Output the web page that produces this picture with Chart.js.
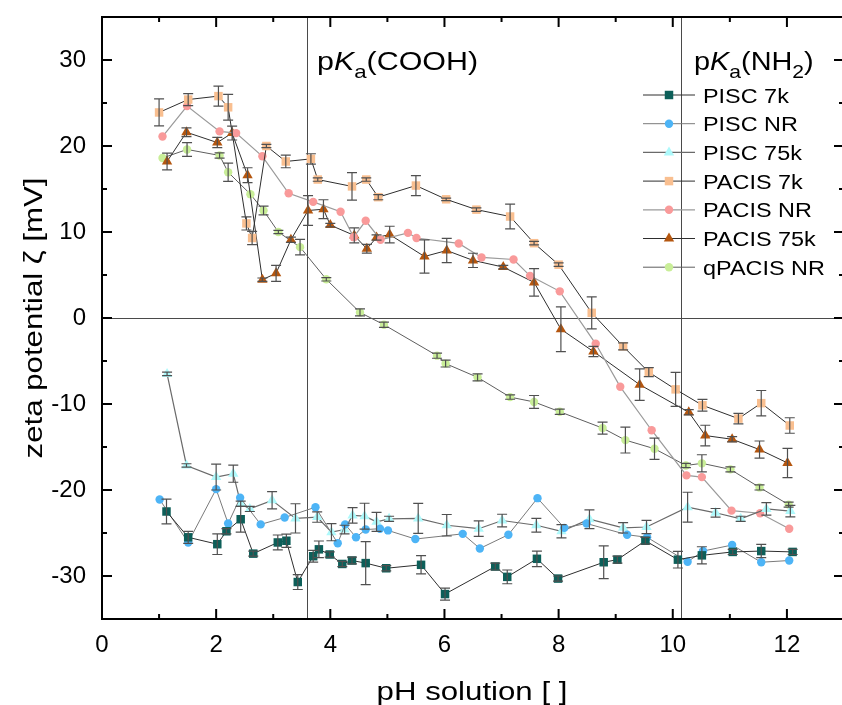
<!DOCTYPE html>
<html>
<head>
<meta charset="utf-8">
<script src="https://cdn.jsdelivr.net/npm/chart.js@4.4.1/dist/chart.umd.min.js"></script>
<style>
  html, body { margin: 0; padding: 0; overflow: hidden; background: #fff; }
  #wrap { width: 850px; height: 705px; }
</style>
</head>
<body>
<div id="wrap"><canvas id="zetaChart" width="850" height="705"></canvas></div>
<script>
// ================================
// DATA
// ================================
const pH_PISC7k = [1.13, 1.51, 2.02, 2.18, 2.43, 2.65, 3.08, 3.23, 3.43, 3.70, 3.80, 3.99, 4.21, 4.38, 4.62, 4.98, 5.59, 6.01, 6.89, 7.10, 7.62, 7.99, 8.79, 9.03, 9.52, 10.09, 10.51, 11.05, 11.55, 12.10];
const zeta_PISC7k = [-22.5, -25.5, -26.3, -24.8, -23.4, -27.4, -26.1, -25.9, -30.7, -27.7, -26.9, -27.5, -28.6, -28.2, -28.5, -29.1, -28.7, -32.1, -28.9, -30.1, -28.0, -30.3, -28.4, -28.1, -25.9, -28.1, -27.6, -27.2, -27.1, -27.2];
const err_PISC7k = [1.45, 0.7, 1.2, 0.3, 1.5, 0.3, 0.87, 0.77, 0.87, 0.68, 0.97, 0.3, 0.3, 0.4, 2.5, 0.3, 1.06, 0.7, 0.4, 0.8, 0.9, 0.3, 1.9, 0.4, 0.4, 0.97, 1.0, 0.3, 0.77, 0.3];

const pH_PISCNR = [1.01, 1.51, 2.00, 2.21, 2.42, 2.78, 3.20, 3.74, 4.13, 4.26, 4.45, 4.62, 4.87, 5.01, 5.49, 6.32, 6.62, 7.12, 7.63, 8.10, 8.49, 9.20, 9.55, 10.26, 10.53, 11.04, 11.55, 12.04];
const zeta_PISCNR = [-21.1, -26.1, -19.9, -23.9, -20.9, -24.0, -23.2, -22.0, -26.2, -24.0, -25.5, -24.6, -24.5, -24.7, -25.7, -25.1, -26.8, -25.2, -20.95, -24.4, -23.9, -25.2, -25.5, -28.35, -27.1, -26.4, -28.4, -28.2];
const err_PISCNR = [];

const pH_PISC75k = [1.14, 1.48, 2.00, 2.30, 2.43, 2.59, 2.98, 3.39, 3.77, 4.02, 4.25, 4.39, 4.60, 4.81, 5.03, 5.54, 6.04, 6.60, 7.01, 7.61, 8.05, 8.54, 9.13, 9.54, 10.26, 10.75, 11.19, 11.64, 12.06];
const zeta_PISC75k = [-6.5, -17.15, -18.5, -18.1, -21.6, -22.2, -21.2, -23.3, -23.15, -24.9, -24.6, -22.96, -23.04, -23.7, -23.35, -23.3, -24.1, -24.5, -23.55, -24.1, -24.8, -23.4, -24.4, -24.3, -22.0, -22.65, -23.35, -22.2, -22.45];
const err_PISC75k = [0.2, 0.2, 1.5, 1.0, 0.3, 0.3, 1.0, 1.7, 0.6, 1.0, 0.5, 0.9, 1.5, 1.1, 0.3, 1.74, 1.25, 0.9, 0.73, 0.8, 0.77, 1.08, 0.6, 0.77, 1.74, 0.5, 0.3, 0.73, 0.67];

const pH_PACIS7k = [1.00, 1.51, 2.04, 2.21, 2.53, 2.63, 2.88, 3.22, 3.66, 3.78, 4.38, 4.63, 4.84, 5.50, 6.03, 6.56, 7.15, 7.57, 8.00, 8.58, 9.13, 9.58, 10.05, 10.52, 11.15, 11.55, 12.05];
const zeta_PACIS7k = [23.9, 25.4, 25.8, 24.5, 11.0, 9.3, 20.0, 18.2, 18.5, 16.1, 15.3, 16.1, 14.05, 15.4, 13.8, 12.6, 11.8, 8.7, 6.2, 0.6, -3.3, -6.3, -8.3, -10.15, -11.7, -9.9, -12.5];
const err_PACIS7k = [1.57, 0.7, 1.16, 1.5, 0.77, 0.77, 0.2, 0.73, 0.6, 0.2, 1.6, 0.2, 0.3, 1.16, 0.15, 0.2, 1.43, 0.2, 0.2, 1.86, 0.4, 0.52, 1.97, 0.68, 0.6, 1.47, 0.9];

const pH_PACISNR = [1.06, 1.49, 2.06, 2.35, 2.81, 3.27, 3.70, 4.18, 4.41, 4.62, 4.88, 5.36, 5.51, 6.25, 6.65, 7.21, 7.50, 8.02, 8.65, 9.08, 9.63, 10.24, 10.51, 11.03, 11.53, 12.04];
const zeta_PACISNR = [21.1, 24.65, 21.7, 21.5, 18.8, 14.5, 13.5, 12.35, 9.4, 11.3, 9.1, 9.9, 9.3, 8.67, 7.04, 6.8, 4.9, 3.1, -3.0, -8.0, -13.05, -18.3, -18.5, -22.4, -22.7, -24.5];
const err_PACISNR = [];

const pH_PACIS75k = [1.14, 1.48, 2.02, 2.28, 2.55, 2.81, 3.05, 3.31, 3.61, 3.88, 4.00, 4.42, 4.64, 4.81, 5.04, 5.65, 6.04, 6.50, 7.03, 7.57, 8.04, 8.61, 9.42, 10.28, 10.57, 11.04, 11.52, 12.01];
const zeta_PACIS75k = [18.2, 21.6, 20.4, 21.5, 16.6, 4.45, 5.2, 9.1, 12.5, 12.65, 10.8, 9.6, 8.05, 9.36, 9.7, 7.15, 7.85, 6.7, 5.92, 4.14, -1.3, -3.9, -7.75, -10.96, -13.67, -14.1, -15.3, -16.85];
const err_PACIS75k = [0.97, 0.5, 0.6, 0.8, 0.87, 0.2, 0.93, 0.3, 1.74, 1.1, 0.2, 0.87, 0.5, 0.3, 0.97, 1.93, 1.4, 0.83, 0.2, 1.6, 2.6, 0.6, 1.84, 0.3, 1.2, 0.3, 1.0, 1.7];

const pH_qPACISNR = [1.06, 1.49, 2.06, 2.21, 2.60, 2.83, 3.09, 3.47, 3.93, 4.52, 4.94, 5.87, 6.02, 6.58, 7.15, 7.57, 8.02, 8.77, 9.17, 9.68, 10.23, 10.51, 11.01, 11.52, 12.03];
const zeta_qPACISNR = [18.6, 19.6, 18.9, 16.95, 14.4, 12.5, 10.0, 8.24, 4.5, 0.65, -0.78, -4.38, -5.3, -6.9, -9.2, -9.76, -10.9, -12.8, -14.2, -15.2, -17.15, -16.9, -17.6, -19.7, -21.7];
const err_qPACISNR = [0, 0.8, 0.3, 1.06, 0, 0.5, 0.2, 0.9, 0.2, 0.4, 0.3, 0.3, 0.4, 0.4, 0.25, 0.75, 0.3, 0.7, 1.5, 1.24, 0.25, 1.0, 0.3, 0.3, 0.3];

const seriesLabels = ["PISC 7k", "PISC NR", "PISC 75k", "PACIS 7k", "PACIS NR", "PACIS 75k", "qPACIS NR"];

const xTickValues = [0, 2, 4, 6, 8, 10, 12];
const xTickLabels = ["0", "2", "4", "6", "8", "10", "12"];
const xMinorValues = [1, 3, 5, 7, 9, 11];
const yTickValues = [-30, -20, -10, 0, 10, 20, 30];
const yTickLabels = ["-30", "-20", "-10", "0", "10", "20", "30"];
const yMinorValues = [-25, -15, -5, 5, 15, 25];

const pKaCOOH = 3.6;
const pKaNH2 = 10.15;

// ================================
// HELPERS
// ================================
const FONT = "'Liberation Sans', Arial, sans-serif";
const SX = 1.17; // text in the figure is a bit wider than Arial

function pts(xs, ys) {
  return xs.map((x, i) => ({ x: x, y: ys[i] }));
}

function makeSet(label, xs, ys, errs, style, fill, line, lineW, r) {
  return {
    label: label,
    data: pts(xs, ys),
    errors: errs,
    borderColor: line,
    borderWidth: lineW,
    backgroundColor: fill,
    pointStyle: style,
    pointRadius: r,
    pointHoverRadius: r,
    pointBackgroundColor: fill,
    pointBorderColor: fill,
    pointBorderWidth: 0,
    tension: 0,
    showLine: true
  };
}

function drawRich(ctx, parts, x, y, sx) {
  ctx.save();
  ctx.translate(x, y);
  ctx.scale(sx, 1);
  let cx = 0;
  parts.forEach(p => {
    ctx.font = p.font;
    ctx.fillText(p.t, cx, p.dy || 0);
    cx += ctx.measureText(p.t).width;
  });
  ctx.restore();
}

// ================================
// PLUGINS
// ================================
const refLines = {
  id: "refLines",
  beforeDatasetsDraw(chart) {
    const { ctx, chartArea: a, scales: { x, y } } = chart;
    ctx.save();
    ctx.strokeStyle = "#4a4a4a";
    ctx.lineWidth = 1;
    [pKaCOOH, pKaNH2].forEach(v => {
      const px = Math.round(x.getPixelForValue(v)) + 0.5;
      ctx.beginPath();
      ctx.moveTo(px, a.top);
      ctx.lineTo(px, a.bottom);
      ctx.stroke();
    });
    const py = Math.round(y.getPixelForValue(0)) + 0.5;
    ctx.beginPath();
    ctx.moveTo(a.left, py);
    ctx.lineTo(a.right, py);
    ctx.stroke();
    ctx.restore();
  }
};

const errorBars = {
  id: "errorBars",
  afterDatasetsDraw(chart) {
    const { ctx, scales: { x, y } } = chart;
    ctx.save();
    ctx.strokeStyle = "#505050";
    ctx.lineWidth = 1.2;
    chart.data.datasets.forEach(ds => {
      (ds.errors || []).forEach((e, i) => {
        if (!e) return;
        const p = ds.data[i];
        const px = x.getPixelForValue(p.x);
        const y1 = y.getPixelForValue(p.y + e);
        const y2 = y.getPixelForValue(p.y - e);
        ctx.beginPath();
        ctx.moveTo(px, y1); ctx.lineTo(px, y2);
        ctx.moveTo(px - 5, y1); ctx.lineTo(px + 5, y1);
        ctx.moveTo(px - 5, y2); ctx.lineTo(px + 5, y2);
        ctx.stroke();
      });
    });
    ctx.restore();
  }
};

const frameAndText = {
  id: "frameAndText",
  afterDraw(chart) {
    const { ctx, chartArea: a, scales: { x, y } } = chart;
    ctx.save();
    ctx.strokeStyle = "#000";
    ctx.lineWidth = 2;
    ctx.strokeRect(a.left, a.top, a.right - a.left, a.bottom - a.top);

    // inward ticks on all four sides
    ctx.lineWidth = 2;
    const tick = (vals, len) => {
      vals.forEach(v => {
        const px = x.getPixelForValue(v);
        ctx.beginPath();
        ctx.moveTo(px, a.bottom); ctx.lineTo(px, a.bottom - len);
        ctx.moveTo(px, a.top); ctx.lineTo(px, a.top + len);
        ctx.stroke();
      });
    };
    const ytick = (vals, len) => {
      vals.forEach(v => {
        const py = y.getPixelForValue(v);
        ctx.beginPath();
        ctx.moveTo(a.left, py); ctx.lineTo(a.left + len, py);
        ctx.moveTo(a.right, py); ctx.lineTo(a.right - len, py);
        ctx.stroke();
      });
    };
    tick(xTickValues, 10);
    tick(xMinorValues, 5);
    ytick(yTickValues, 10);
    ytick(yMinorValues, 5);

    // pKa annotations
    ctx.fillStyle = "#000";
    ctx.textBaseline = "alphabetic";
    ctx.textAlign = "left";
    const big = "26px " + FONT, it = "italic 26px " + FONT, sub = "19px " + FONT;
    drawRich(ctx, [
      { t: "p", font: big }, { t: "K", font: it }, { t: "a", font: sub, dy: 8 },
      { t: "(COOH)", font: big }
    ], 317, 70, SX);
    drawRich(ctx, [
      { t: "p", font: big }, { t: "K", font: it }, { t: "a", font: sub, dy: 8 },
      { t: "(NH", font: big }, { t: "2", font: sub, dy: 8 }, { t: ")", font: big }
    ], 694, 70, 1.11);

    // legend
    const rowY0 = 95, rowStep = 28.7;
    chart.data.datasets.forEach((ds, i) => {
      const ry = rowY0 + i * rowStep;
      ctx.strokeStyle = ds.borderColor;
      ctx.lineWidth = ds.borderWidth;
      ctx.beginPath();
      ctx.moveTo(643, ry); ctx.lineTo(695, ry);
      ctx.stroke();
      ctx.fillStyle = ds.pointBackgroundColor;
      ctx.strokeStyle = ds.pointBackgroundColor;
      Chart.helpers.drawPoint(ctx, {
        pointStyle: ds.pointStyle, radius: ds.pointRadius, rotation: 0, borderWidth: 0
      }, 669, ry);
      ctx.fillStyle = "#000";
      drawRich(ctx, [{ t: ds.label, font: "20px " + FONT }], 703, ry + 7.5, SX);
    });

    // axis titles
    const ttl = "26px " + FONT;
    ctx.font = ttl;
    const xt = "pH solution [ ]";
    const xw = ctx.measureText(xt).width * 1.2;
    drawRich(ctx, [{ t: xt, font: ttl }], (a.left + a.right) / 2 - 1 - xw / 2, 700, 1.2);

    const yt = "zeta potential \u03B6 [mV]";
    const yw = ctx.measureText(yt).width * 1.2;
    ctx.save();
    ctx.translate(42, (a.top + a.bottom) / 2);
    ctx.rotate(-Math.PI / 2);
    drawRich(ctx, [{ t: yt, font: ttl }], -yw / 2, 0, 1.2);
    ctx.restore();

    ctx.restore();
  }
};

// ================================
// CHART
// ================================
const datasets = [
  makeSet(seriesLabels[0], pH_PISC7k, zeta_PISC7k, err_PISC7k, "rect", "#0d5f59", "#2e2e2e", 1, 6),
  makeSet(seriesLabels[1], pH_PISCNR, zeta_PISCNR, err_PISCNR, "circle", "#4db4f6", "#7a7a7a", 1, 4.2),
  makeSet(seriesLabels[2], pH_PISC75k, zeta_PISC75k, err_PISC75k, "triangle", "#aef9fb", "#6a6a6a", 1.2, 6),
  makeSet(seriesLabels[3], pH_PACIS7k, zeta_PACIS7k, err_PACIS7k, "rect", "#f9bf90", "#2e2e2e", 1, 6),
  makeSet(seriesLabels[4], pH_PACISNR, zeta_PACISNR, err_PACISNR, "circle", "#f99a9a", "#9a9a9a", 1.2, 4.2),
  makeSet(seriesLabels[5], pH_PACIS75k, zeta_PACIS75k, err_PACIS75k, "triangle", "#b4560f", "#2e2e2e", 1, 6),
  makeSet(seriesLabels[6], pH_qPACISNR, zeta_qPACISNR, err_qPACISNR, "circle", "#c9ee98", "#5e5e5e", 1, 4.2)
];

new Chart(document.getElementById("zetaChart"), {
  type: "scatter",
  data: { datasets: datasets },
  options: {
    responsive: false,
    animation: false,
    devicePixelRatio: 1,
    layout: { padding: { top: 17, right: 1, left: 0, bottom: 0 } },
    plugins: { legend: { display: false }, tooltip: { enabled: false } },
    scales: {
      x: {
        type: "linear",
        min: 0,
        max: 13,
        grid: { display: false, drawTicks: false },
        border: { display: false },
        afterBuildTicks: s => { s.ticks = xTickValues.map(v => ({ value: v })); },
        afterFit: s => { s.height = 86; s.paddingLeft = 0; s.paddingRight = 0; },
        ticks: {
          padding: 12,
          color: "#000",
          font: { family: FONT, size: 24 },
          maxRotation: 0,
          callback: (v) => xTickLabels[xTickValues.indexOf(v)]
        }
      },
      y: {
        type: "linear",
        min: -35,
        max: 35,
        grid: { display: false, drawTicks: false },
        border: { display: false },
        afterBuildTicks: s => { s.ticks = yTickValues.map(v => ({ value: v })); },
        afterFit: s => { s.width = 102; s.paddingTop = 0; s.paddingBottom = 0; },
        ticks: {
          padding: 16,
          color: "#000",
          font: { family: FONT, size: 24 },
          callback: (v) => yTickLabels[yTickValues.indexOf(v)]
        }
      }
    }
  },
  plugins: [refLines, errorBars, frameAndText]
});
</script>
</body>
</html>
